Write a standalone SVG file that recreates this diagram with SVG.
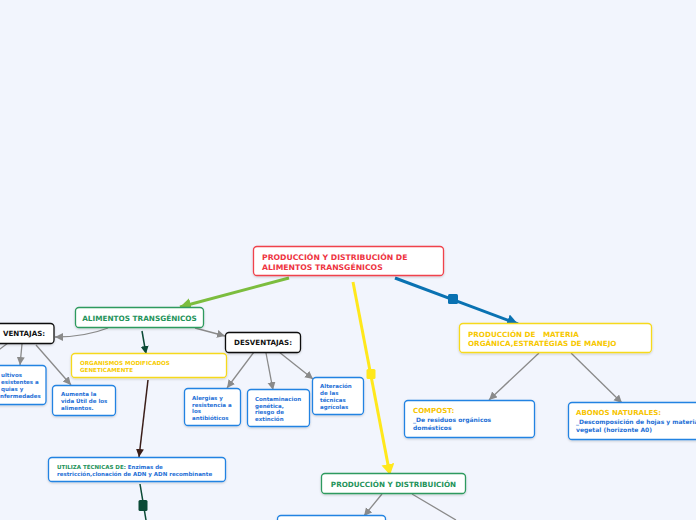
<svg xmlns="http://www.w3.org/2000/svg" width="696" height="520" viewBox="0 0 696 520">
<defs>
<style>
.bg{fill:#f2f5fd}
.box{fill:#fff;stroke-width:1.3}
.red{stroke:#f0424c}.grn{stroke:#2e9a5e}.blk{stroke:#111}.yel{stroke:#f6d91e}.blu{stroke:#2383e2}
text{font-family:"DejaVu Sans","Verdana",sans-serif;font-weight:bold}
.tr{fill:#ee333f;font-size:7.7px}
.tg{fill:#24935a;font-size:7.3px}
.tk{fill:#111;font-size:7.1px}
.ty{fill:#f7cc00;font-size:5.6px}
.ty2{fill:#f7c800;font-size:7.2px}
.tb{fill:#1e6fd6;font-size:5.5px}
.tb6{fill:#1e6fd6;font-size:6px}
.tc{fill:#f7c400;font-size:7px}
.gray{stroke:#8a8a8a;stroke-width:1.3;fill:none}
</style>
<filter id="sh" x="-10%" y="-20%" width="120%" height="150%"><feDropShadow dx="0" dy="1" stdDeviation="0.8" flood-color="#000" flood-opacity="0.18"/></filter>
<marker id="ag" markerUnits="userSpaceOnUse" markerWidth="10" markerHeight="10" refX="8" refY="4" orient="auto"><path d="M0,0 L8,4 L0,8 Z" fill="#8a8a8a"/></marker>
<marker id="agrn" markerUnits="userSpaceOnUse" markerWidth="14" markerHeight="14" refX="11" refY="6" orient="auto"><path d="M0,0 L11,6 L0,12 Z" fill="#7cbd3e"/></marker>
<marker id="ayel" markerUnits="userSpaceOnUse" markerWidth="14" markerHeight="14" refX="11" refY="6.5" orient="auto"><path d="M0,0 L11,6.5 L0,13 Z" fill="#ffe81c"/></marker>
<marker id="ablu" markerUnits="userSpaceOnUse" markerWidth="14" markerHeight="14" refX="11" refY="6" orient="auto"><path d="M0,0 L11,6 L0,12 Z" fill="#0a72b2"/></marker>
<marker id="adg" markerUnits="userSpaceOnUse" markerWidth="10" markerHeight="10" refX="8" refY="4" orient="auto"><path d="M0,0 L8,4 L0,8 Z" fill="#0b4a36"/></marker>
<marker id="abr" markerUnits="userSpaceOnUse" markerWidth="10" markerHeight="10" refX="8" refY="4" orient="auto"><path d="M0,0 L8,4 L0,8 Z" fill="#3a1d18"/></marker>
</defs>
<rect class="bg" x="0" y="0" width="696" height="520"/>

<g id="connectors">
<line x1="289" y1="278" x2="180" y2="307" stroke="#7cbd3e" stroke-width="3" marker-end="url(#agrn)"/>
<line x1="353" y1="282" x2="390" y2="475" stroke="#ffe81c" stroke-width="3" marker-end="url(#ayel)"/>
<rect x="366.5" y="369" width="9" height="10" rx="1.5" fill="#ffe81c"/>
<line x1="395" y1="278" x2="518" y2="324" stroke="#0a72b2" stroke-width="3" marker-end="url(#ablu)"/>
<rect x="448" y="294" width="10" height="10" rx="1.5" fill="#0a72b2"/>
<path class="gray" d="M108,328 Q85,337 55,337" marker-end="url(#ag)"/>
<line class="gray" x1="195" y1="328" x2="225" y2="336" marker-end="url(#ag)"/>
<line x1="142" y1="331" x2="146" y2="354" stroke="#0b4a36" stroke-width="1.5" marker-end="url(#adg)"/>
<line class="gray" x1="8" y1="343" x2="-4" y2="352"/>
<line class="gray" x1="22" y1="344" x2="20" y2="365" marker-end="url(#ag)"/>
<line class="gray" x1="36" y1="345" x2="71" y2="385" marker-end="url(#ag)"/>
<line class="gray" x1="254" y1="352" x2="227" y2="388" marker-end="url(#ag)"/>
<line class="gray" x1="266" y1="353" x2="273" y2="390" marker-end="url(#ag)"/>
<line class="gray" x1="279" y1="352" x2="313" y2="379" marker-end="url(#ag)"/>
<line x1="148" y1="380" x2="139" y2="457" stroke="#3a1d18" stroke-width="1.5" marker-end="url(#abr)"/>
<line x1="140" y1="484" x2="146" y2="520" stroke="#0b4a36" stroke-width="1.5"/>
<rect x="138.5" y="500" width="9" height="11" rx="1.5" fill="#0b4a36"/>
<line class="gray" x1="539" y1="353" x2="489" y2="400" marker-end="url(#ag)"/>
<line class="gray" x1="571" y1="353" x2="622" y2="403" marker-end="url(#ag)"/>
<line class="gray" x1="382" y1="494" x2="364" y2="516" marker-end="url(#ag)"/>
<line class="gray" x1="412" y1="494" x2="456" y2="520"/>
</g>

<g id="main">
<rect class="box red" x="253.5" y="246.5" width="190" height="29" rx="3.5" filter="url(#sh)"/>
<text class="tr" x="262" y="260">PRODUCCIÓN Y DISTRIBUCIÓN DE</text>
<text class="tr" x="262" y="269.5">ALIMENTOS TRANSGÉNICOS</text>
</g>

<g id="alimentos">
<rect class="box grn" x="75.5" y="307.5" width="128" height="20" rx="3.5" filter="url(#sh)"/>
<text class="tg" x="139.5" y="320.5" text-anchor="middle">ALIMENTOS TRANSGÉNICOS</text>
</g>

<g id="ventajas">
<rect class="box blk" x="-5" y="323.5" width="59" height="20" rx="3.5" filter="url(#sh)"/>
<text class="tk" x="3" y="336">VENTAJAS:</text>
</g>

<g id="desventajas">
<rect class="box blk" x="225.5" y="332.5" width="75" height="20" rx="3.5" filter="url(#sh)"/>
<text class="tk" x="263" y="345" text-anchor="middle">DESVENTAJAS:</text>
</g>

<g id="organismos">
<rect class="box yel" x="71.5" y="353.5" width="155" height="24" rx="3.5" filter="url(#sh)"/>
<text class="ty" x="80" y="365">ORGANISMOS MODIFICADOS</text>
<text class="ty" x="80" y="372">GENETICAMENTE</text>
</g>

<g id="cultivos">
<rect class="box blu" x="-10" y="365.5" width="56" height="39" rx="3.5" filter="url(#sh)"/>
<text class="tb" x="1" y="377">ultivos</text>
<text class="tb" x="1" y="384">esistentes a</text>
<text class="tb" x="1" y="391">quias y</text>
<text class="tb" x="0" y="398">nfermedades</text>
</g>

<g id="aumenta">
<rect class="box blu" x="52.5" y="385.5" width="63" height="30" rx="3.5" filter="url(#sh)"/>
<text class="tb" x="61" y="396">Aumenta la</text>
<text class="tb" x="61" y="403">vida Útil de los</text>
<text class="tb" x="61" y="410">alimentos.</text>
</g>

<g id="alergias">
<rect class="box blu" x="184.5" y="388.5" width="56" height="37" rx="3.5" filter="url(#sh)"/>
<text class="tb" x="192" y="400">Alergias y</text>
<text class="tb" x="192" y="406.5">resistencia a</text>
<text class="tb" x="192" y="413">los</text>
<text class="tb" x="192" y="419.5">antibióticos</text>
</g>

<g id="contaminacion">
<rect class="box blu" x="247.5" y="389.5" width="62" height="37" rx="3.5" filter="url(#sh)"/>
<text class="tb" x="255" y="401">Contaminacion</text>
<text class="tb" x="255" y="407.5">genética,</text>
<text class="tb" x="255" y="414">riesgo de</text>
<text class="tb" x="255" y="420.5">extinción</text>
</g>

<g id="alteracion">
<rect class="box blu" x="312.5" y="377.5" width="51" height="37" rx="3.5" filter="url(#sh)"/>
<text class="tb" x="320" y="388">Alteración</text>
<text class="tb" x="320" y="395">de las</text>
<text class="tb" x="320" y="402">técnicas</text>
<text class="tb" x="320" y="409">agrícolas</text>
</g>

<g id="utiliza">
<rect class="box blu" x="48.5" y="457.5" width="177" height="24" rx="3.5" filter="url(#sh)"/>
<text class="tb" x="57" y="468.5"><tspan fill="#24935a">UTILIZA TÉCNICAS DE:</tspan> Enzimas de</text>
<text class="tb" x="57" y="476">restricción,clonación de ADN y ADN recombinante</text>
</g>

<g id="materia">
<rect class="box yel" x="459.5" y="323.5" width="192" height="29" rx="3.5" filter="url(#sh)"/>
<text class="ty2" x="468" y="337" xml:space="preserve">PRODUCCIÓN DE   MATERIA</text>
<text class="ty2" x="468" y="345.5">ORGÁNICA,ESTRATÉGIAS DE MANEJO</text>
</g>

<g id="compost">
<rect class="box blu" x="404.5" y="400.5" width="130" height="37" rx="3.5" filter="url(#sh)"/>
<text class="tc" x="413" y="413">COMPOST:</text>
<text class="tb6" x="413" y="422">_De residuos orgánicos</text>
<text class="tb6" x="413" y="430">domésticos</text>
</g>

<g id="abonos">
<rect class="box blu" x="568.5" y="402.5" width="140" height="37" rx="3.5" filter="url(#sh)"/>
<text class="tc" x="576" y="414.5">ABONOS NATURALES:</text>
<text class="tb6" x="576" y="423.5">_Descomposición de hojas y materia</text>
<text class="tb6" x="576" y="432">vegetal (horizonte A0)</text>
</g>

<g id="produccion">
<rect class="box grn" x="321.5" y="473.5" width="144" height="20" rx="3.5" filter="url(#sh)"/>
<text class="tg" x="393.5" y="486.5" text-anchor="middle" style="font-size:7.2px">PRODUCCIÓN Y DISTRIBUICIÓN</text>
</g>

<g id="bottom-node">
<rect class="box blu" x="277.5" y="515.5" width="108" height="20" rx="3.5" filter="url(#sh)"/>
</g>
</svg>
